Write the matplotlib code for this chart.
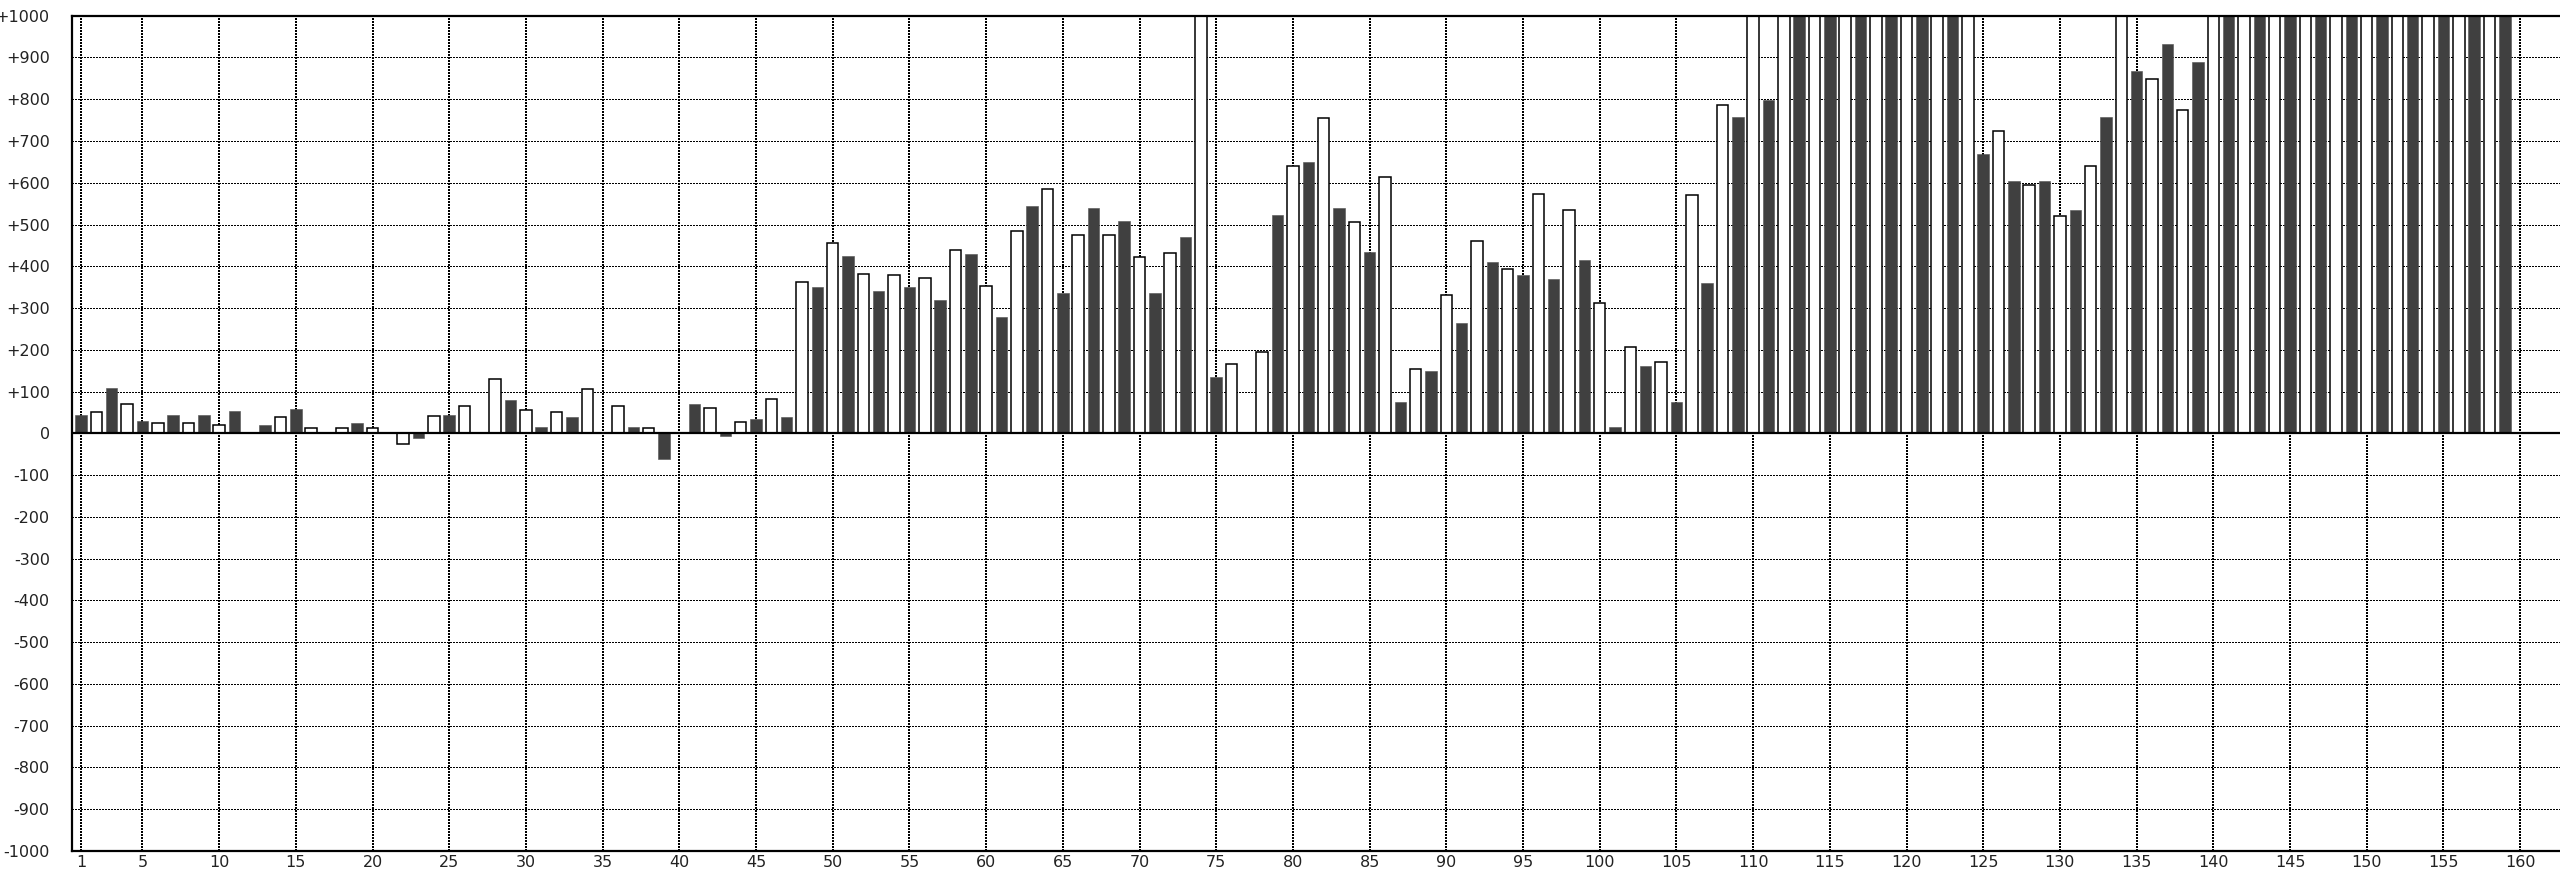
import matplotlib
matplotlib.use("Agg")
import matplotlib.pyplot as plt
import numpy as np

# Odd positions (1, 3, ..., 159) - dark series
dark_values = [43, 108, 30, 43, 43, 53, 21, 58, 0, 25,
               0, -11, 43, 0, 81, 16, 39, 0, 16, -62,
               70, -6, 34, 38, 351, 425, 342, 351, 319, 430,
               278, 544, 337, 540, 508, 337, 470, 135, 0, 522,
               650, 540, 434, 75, 150, 264, 411, 379, 370, 416,
               15, 162, 75, 361, 757, 798, 1000, 1000, 1000, 1000,
               1000, 1000, 669, 605, 605, 535, 757, 867, 932, 890,
               1000, 1000, 1000, 1000, 1000, 1000, 1000, 1000, 1000, 1000]

# Even positions (2, 4, ..., 160) - white series
white_values = [51, 70, 24, 24, 19, 0, 38, 14, 14, 14,
                -25, 42, 66, 130, 56, 51, 107, 66, 14, 0,
                60, 26, 83, 363, 456, 382, 378, 373, 438, 354,
                484, 584, 474, 474, 423, 433, 1000, 166, 194, 640,
                755, 507, 613, 153, 332, 461, 393, 572, 534, 313,
                207, 171, 571, 787, 1000, 1000, 1000, 1000, 1000, 1000,
                1000, 1000, 723, 595, 520, 641, 1000, 848, 774, 1000,
                1000, 1000, 1000, 1000, 1000, 1000, 1000, 1000, 1000, 0]

x_ticks = [1] + list(range(5, 161, 5))
y_ticks = list(range(-1000, 1001, 100))
y_labels = [("+%d" % v if v > 0 else "%d" % v) for v in y_ticks]

dark_pos = np.arange(1, 160, 2)
white_pos = np.arange(2, 161, 2)

fig = plt.figure(figsize=(25.6, 8.71), dpi=100)
ax = fig.add_axes([72 / 2560, 1 - 851 / 871, 1 - 72 / 2560, (851 - 15.7) / 871])

ax.set_axisbelow(True)
ax.bar(dark_pos, dark_values, width=0.75, color="#404040", edgecolor="#505050",
       linewidth=0.4, zorder=2)
ax.bar(white_pos, white_values, width=0.75, color="white", edgecolor="black",
       linewidth=1.1, zorder=2)
ax.axhline(0, color="black", linewidth=1.6, zorder=3)

ax.set_xlim(0.41, 162.6)
ax.set_ylim(-1000, 1000)
ax.set_xticks(x_ticks)
ax.set_xticklabels([str(t) for t in x_ticks])
ax.set_yticks(y_ticks)
ax.set_yticklabels(y_labels)

ax.xaxis.grid(True, color="black", linestyle=(0, (1, 1.2)), linewidth=1.1,
              antialiased=False)
ax.yaxis.grid(True, color="black", linestyle=(0, (1, 1.4)), linewidth=0.75,
              antialiased=False)

ax.tick_params(axis="both", length=0, labelsize=11.5, labelcolor="#222222")
ax.tick_params(axis="y", pad=16)
ax.tick_params(axis="x", pad=3)

for side in ["left", "top", "bottom"]:
    ax.spines[side].set_linewidth(1.6)
    ax.spines[side].set_color("black")
ax.spines["right"].set_visible(False)

fig.savefig("out.png", dpi=100)
